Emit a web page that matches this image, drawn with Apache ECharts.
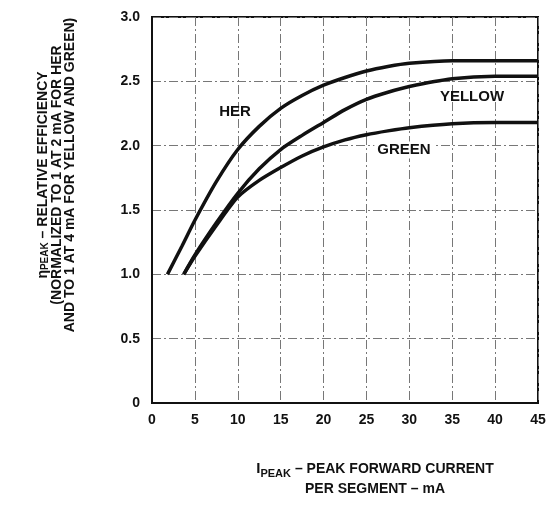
<!DOCTYPE html>
<html>
<head>
<meta charset="utf-8">
<script src="https://cdn.jsdelivr.net/npm/echarts@6/dist/echarts.min.js"></script>
<style>
  html, body { margin: 0; padding: 0; background: #fff; }
  #chart { width: 553px; height: 508px; }
</style>
</head>
<body>
<div id="chart"></div>
<script>
// peak current (mA) vs relative efficiency
const herPoints = [[1.8, 1.0], [3.5, 1.22], [5, 1.42], [7.5, 1.72], [10, 1.97], [12.5, 2.15], [15, 2.29], [17.5, 2.39], [20, 2.47], [22.5, 2.53], [25, 2.58], [27.5, 2.615], [30, 2.64], [35, 2.66], [40, 2.66], [45, 2.66]]
const yellowPoints = [[3.7, 1.0], [5, 1.15], [7.5, 1.4], [10, 1.63], [12.5, 1.82], [15, 1.97], [17.5, 2.08], [20, 2.18], [22.5, 2.28], [25, 2.36], [27.5, 2.415], [30, 2.46], [35, 2.52], [40, 2.54], [45, 2.54]]
const greenPoints = [[3.7, 1.0], [5, 1.14], [7.5, 1.38], [10, 1.6], [12.5, 1.73], [15, 1.83], [17.5, 1.92], [20, 1.99], [22.5, 2.045], [25, 2.085], [27.5, 2.115], [30, 2.14], [35, 2.17], [40, 2.18], [45, 2.18]]
const xTicks = [0, 5, 10, 15, 20, 25, 30, 35, 40, 45]
const yTicks = [0, 0.5, 1.0, 1.5, 2.0, 2.5, 3.0]

const FONT = '"Liberation Sans", Arial, sans-serif'

const chart = echarts.init(document.getElementById('chart'))

function curve(name, pts) {
  return {
    name: name,
    type: 'line',
    data: pts,
    smooth: 0.25,
    showSymbol: false,
    symbol: 'none',
    lineStyle: { color: '#111', width: 3.5 },
    z: 5
  }
}

const gridLine = {
  show: true,
  lineStyle: { color: '#777', width: 1, type: [9, 3, 2, 3] }
}

chart.setOption({
  animation: false,
  backgroundColor: '#fff',
  grid: {
    left: 152,
    right: 15,
    top: 17,
    bottom: 105,
    show: true,
    borderColor: '#111',
    borderWidth: 2
  },
  xAxis: {
    type: 'value',
    min: xTicks[0],
    max: xTicks[xTicks.length - 1],
    interval: 5,
    axisLine: { show: true, lineStyle: { color: '#111', width: 2 } },
    axisTick: { show: false },
    splitLine: gridLine,
    axisLabel: {
      color: '#111',
      fontFamily: FONT,
      fontWeight: 'bold',
      fontSize: 14,
      margin: 10
    }
  },
  yAxis: {
    type: 'value',
    min: yTicks[0],
    max: yTicks[yTicks.length - 1],
    interval: 0.5,
    axisLine: { show: true, lineStyle: { color: '#111', width: 2 } },
    axisTick: { show: false },
    splitLine: gridLine,
    axisLabel: {
      color: '#111',
      fontFamily: FONT,
      fontWeight: 'bold',
      fontSize: 14,
      margin: 12,
      formatter: v => (v === 0 ? '0' : v.toFixed(1))
    }
  },
  series: [
    curve('HER', herPoints),
    curve('YELLOW', yellowPoints),
    curve('GREEN', greenPoints)
  ],
  graphic: [
    {
      type: 'text', x: 235, y: 112, z: 10,
      style: { text: 'HER', font: 'bold 15px ' + FONT, fill: '#111', align: 'center', verticalAlign: 'middle' }
    },
    {
      type: 'text', x: 472, y: 97, z: 10,
      style: { text: 'YELLOW', font: 'bold 15px ' + FONT, fill: '#111', align: 'center', verticalAlign: 'middle' }
    },
    {
      type: 'text', x: 404, y: 150, z: 10,
      style: {
        text: 'GREEN', font: 'bold 15px ' + FONT, fill: '#111', align: 'center', verticalAlign: 'middle',
        backgroundColor: '#fff', padding: [1, 3]
      }
    },
    {
      // y axis title, three rotated lines
      type: 'text', x: 57, y: 175, rotation: Math.PI / 2, z: 10,
      style: {
        text: '{m|η}{s|PEAK}{m| – RELATIVE EFFICIENCY}\n{m|(NORMALIZED TO 1 AT 2 mA FOR HER}\n{m|AND TO 1 AT 4 mA FOR YELLOW AND GREEN)}',
        align: 'center',
        verticalAlign: 'middle',
        fill: '#111',
        rich: {
          m: { fontFamily: FONT, fontWeight: 'bold', fontSize: 14, lineHeight: 13.5, fill: '#111' },
          s: { fontFamily: FONT, fontWeight: 'bold', fontSize: 10, lineHeight: 13.5, verticalAlign: 'bottom', fill: '#111' }
        }
      }
    },
    {
      // x axis title
      type: 'text', x: 375, y: 479, z: 10,
      style: {
        text: '{b|I}{s|PEAK}{m| – PEAK FORWARD CURRENT}\n{m|PER SEGMENT – mA}',
        align: 'center',
        verticalAlign: 'middle',
        fill: '#111',
        rich: {
          b: { fontFamily: FONT, fontWeight: 'bold', fontSize: 15, lineHeight: 20, fill: '#111' },
          m: { fontFamily: FONT, fontWeight: 'bold', fontSize: 14, lineHeight: 20, fill: '#111' },
          s: { fontFamily: FONT, fontWeight: 'bold', fontSize: 11, lineHeight: 20, verticalAlign: 'bottom', fill: '#111' }
        }
      }
    }
  ]
})
</script>
</body>
</html>
